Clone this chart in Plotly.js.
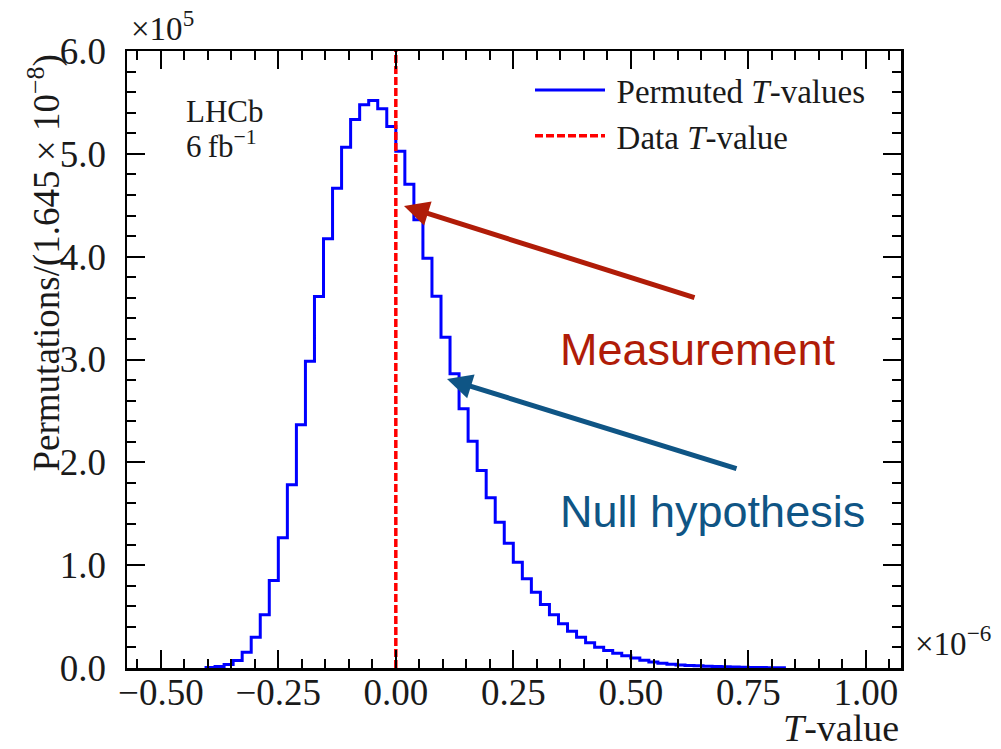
<!DOCTYPE html>
<html>
<head>
<meta charset="utf-8">
<script src="https://cdn.plot.ly/plotly-3.0.1.min.js"></script>
<style>html,body{margin:0;padding:0;background:#fff;}#chart{width:1001px;height:749px;}</style>
</head>
<body>
<div id="chart"></div>
<script>
// ---- data (T-values in units of 1e-6, counts in units of 1e5) ----
const histRange = [-0.5, 1.0];
const nBins = 78;
const permutedCounts = [
  0, 0, 0, 0,
  0, 0.006, 0.015, 0.034, 0.073, 0.154, 0.300, 0.517, 0.851, 1.266,
  1.781, 2.365, 2.984, 3.613, 4.174, 4.666, 5.065, 5.334, 5.477, 5.519,
  5.438, 5.266, 5.025, 4.704, 4.359, 3.985, 3.616, 3.217, 2.861, 2.521,
  2.206, 1.921, 1.655, 1.418, 1.214, 1.029, 0.867, 0.737, 0.617, 0.517,
  0.430, 0.358, 0.300, 0.245, 0.202, 0.170, 0.144, 0.120, 0.097, 0.075,
  0.058, 0.047, 0.037, 0.030, 0.025, 0.021, 0.017, 0.014, 0.011, 0.009,
  0.007, 0.006, 0.005, 0.003, 0.002, 0, 0, 0, 0,
  0, 0, 0, 0, 0
];
const dataTValue = 0.0;
const xTickLabelsFormat = '.2f';
const yTickLabelsFormat = '.1f';
const xRange = [-0.572, 1.075];
const yRange = [0, 6];

// ---- build step outline from histogram ----
const binWidth = (histRange[1] - histRange[0]) / nBins;
let first = permutedCounts.findIndex(v => v > 0);
let last = permutedCounts.length - 1;
while (last > 0 && permutedCounts[last] === 0) last--;
const sx = [], sy = [];
sx.push(histRange[0] + first * binWidth); sy.push(0);
for (let i = first; i <= last; i++) {
  sx.push(histRange[0] + i * binWidth); sy.push(permutedCounts[i]);
}
sx.push(histRange[0] + (last + 1) * binWidth); sy.push(0);

// ---- layout geometry helpers ----
const L = 127, T = 51, W = 774, H = 617;
const px = x => (x - L) / W;
const py = y => 1 - (y - T) / H;

const serif = 'Liberation Serif, Times New Roman, serif';
const sans = 'Liberation Sans, Arial, sans-serif';
const red = '#b01c08', blue = '#0f5585';
const ink = '#1a1a1a';

const traces = [
  {
    x: sx, y: sy, type: 'scatter', mode: 'lines',
    line: {shape: 'hv', color: '#0000ff', width: 3},
    name: '\u2009Permuted <i>T</i>-values', legendgroup: 'a'
  },
  {
    x: [dataTValue, dataTValue], y: yRange, type: 'scatter', mode: 'lines',
    line: {color: '#ff0000', width: 3.5, dash: '8px,3px'},
    name: '\u2009Data <i>T</i>-value', legendgroup: 'b'
  }
];

const axisCommon = {
  showline: true, linecolor: '#000', linewidth: 2.5, mirror: 'allticks',
  ticks: 'inside', ticklen: 18, tickwidth: 2, tickcolor: '#000',
  showgrid: false, zeroline: false,
  tickfont: {family: serif, size: 37, color: ink},
};

const layout = {
  width: 1001, height: 749,
  margin: {l: L, r: 1001 - L - W, t: T, b: 749 - T - H, pad: 0},
  paper_bgcolor: '#fff', plot_bgcolor: '#fff',
  showlegend: true,
  legend: {
    x: px(530), y: py(62), xanchor: 'left', yanchor: 'top',
    font: {family: serif, size: 33, color: ink},
    bgcolor: 'rgba(0,0,0,0)', itemwidth: 70, tracegroupgap: 5,
    traceorder: 'normal'
  },
  xaxis: Object.assign({}, axisCommon, {
    range: xRange, tick0: 0, dtick: 0.25, tickformat: xTickLabelsFormat,
    ticklabelstandoff: -10,
    minor: {dtick: 0.05, tick0: 0, ticks: 'inside', ticklen: 9, tickwidth: 2, tickcolor: '#000', showgrid: false}
  }),
  yaxis: Object.assign({}, axisCommon, {
    range: yRange, tick0: 0, dtick: 1, tickformat: yTickLabelsFormat,
    ticklabelstandoff: 11,
    minor: {dtick: 0.2, tick0: 0, ticks: 'inside', ticklen: 9, tickwidth: 2, tickcolor: '#000', showgrid: false}
  }),
  annotations: [
    {xref: 'paper', yref: 'paper', x: px(44), y: py(53), xanchor: 'center', yanchor: 'top',
     textangle: -90, showarrow: false,
     text: 'Permutations/(1.645 × 10<sup>−8</sup>)',
     font: {family: serif, size: 37, color: ink}},
    {xref: 'paper', yref: 'paper', x: px(901), y: py(728), xanchor: 'right', yanchor: 'middle',
     showarrow: false, text: '<i>T</i>-value',
     font: {family: serif, size: 38, color: ink}},
    {xref: 'paper', yref: 'paper', x: px(129), y: py(49), xanchor: 'left', yanchor: 'bottom',
     showarrow: false, text: '×10<sup>5</sup>',
     font: {family: serif, size: 33, color: ink}},
    {xref: 'paper', yref: 'paper', x: px(913), y: py(664), xanchor: 'left', yanchor: 'bottom',
     showarrow: false, text: '×10<sup>−6</sup>',
     font: {family: serif, size: 33, color: ink}},
    {xref: 'paper', yref: 'paper', x: px(184), y: py(111), xanchor: 'left', yanchor: 'middle',
     showarrow: false, text: 'LHCb',
     font: {family: serif, size: 31, color: ink}},
    {xref: 'paper', yref: 'paper', x: px(184), y: py(145), xanchor: 'left', yanchor: 'middle',
     showarrow: false, text: '6\u2009fb<sup>−1</sup>',
     font: {family: serif, size: 31, color: ink}},
    {xref: 'paper', yref: 'paper', x: px(558), y: py(350), xanchor: 'left', yanchor: 'middle',
     showarrow: false, text: 'Measurement',
     font: {family: sans, size: 45, color: red}},
    {xref: 'paper', yref: 'paper', x: px(558), y: py(511), xanchor: 'left', yanchor: 'middle',
     showarrow: false, text: 'Null hypothesis',
     font: {family: sans, size: 45, color: blue}},
    {xref: 'paper', yref: 'paper', x: px(404), y: py(206), ax: 292, ay: 92,
     showarrow: true, text: '', arrowhead: 2, arrowsize: 1.0, arrowwidth: 5,
     arrowcolor: red, standoff: 0, startstandoff: 0},
    {xref: 'paper', yref: 'paper', x: px(447), y: py(379), ax: 291, ay: 90,
     showarrow: true, text: '', arrowhead: 2, arrowsize: 1.0, arrowwidth: 5,
     arrowcolor: blue, standoff: 0, startstandoff: 0}
  ]
};

Plotly.newPlot('chart', traces, layout, {displayModeBar: false, staticPlot: true});
</script>
</body>
</html>
